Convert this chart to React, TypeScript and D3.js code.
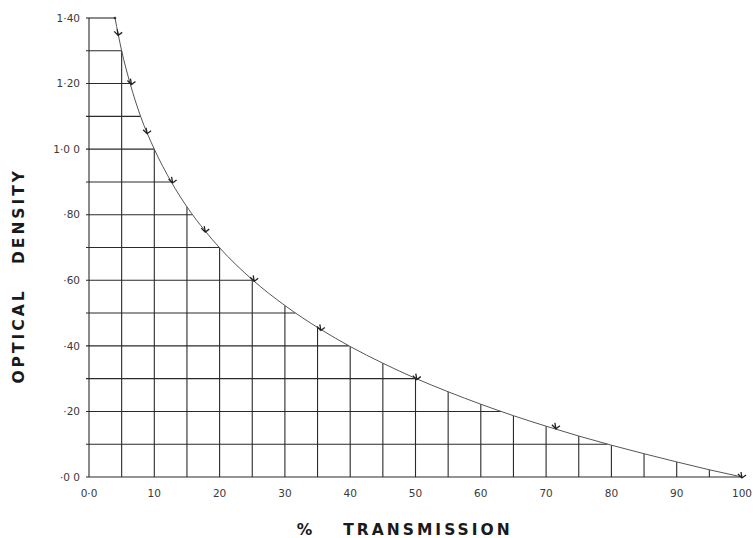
import React, { useEffect, useRef } from 'react';
import * as d3 from 'd3';

// values
const xTicks = [0, 10, 20, 30, 40, 50, 60, 70, 80, 90, 100];
const xTickLabels = ['0·0', '10', '20', '30', '40', '50', '60', '70', '80', '90', '100'];
const yTicks = [0, 0.2, 0.4, 0.6, 0.8, 1.0, 1.2, 1.4];
const yTickLabels = ['·0 0', '·20', '·40', '·60', '·80', '1·0 0', '1·20', '1·40'];

// vertical grid lines: transmission, and the density where each meets the curve
const vGridT = [5, 10, 15, 20, 25, 30, 35, 40, 45, 50, 55, 60, 65, 70, 75, 80, 85, 90, 95];
const vGridTop = [1.30, 1.00, 0.824, 0.699, 0.602, 0.523, 0.456, 0.398, 0.347, 0.301, 0.26, 0.222, 0.187, 0.155, 0.125, 0.097, 0.071, 0.046, 0.022];

// horizontal grid lines: density, and the transmission where each meets the curve
const hGridOD = [0.1, 0.2, 0.3, 0.4, 0.5, 0.6, 0.7, 0.8, 0.9, 1.0, 1.1, 1.2, 1.3, 1.4];
const hGridEnd = [79.4, 63.1, 50.1, 39.8, 31.6, 25.1, 20.0, 15.8, 12.6, 10.0, 7.9, 6.3, 5.0, 3.98];

// curve points
const curveT = [3.98, 5, 6.3, 7.9, 10, 12.6, 15, 17.8, 20, 25, 30, 35.5, 40, 45, 50, 55, 60, 65, 70, 75, 80, 85, 90, 95, 100];
const curveOD = [1.40, 1.30, 1.20, 1.10, 1.00, 0.90, 0.824, 0.75, 0.699, 0.602, 0.523, 0.45, 0.398, 0.347, 0.301, 0.26, 0.222, 0.187, 0.155, 0.125, 0.097, 0.071, 0.046, 0.022, 0];

// little arrow marks on the curve
const markT = [4.47, 6.5, 8.9, 12.8, 17.8, 25.3, 35.5, 50.2, 71.5, 100];
const markOD = [1.35, 1.20, 1.05, 0.90, 0.75, 0.60, 0.45, 0.30, 0.15, 0.0];

const W = 755;
const H = 538;

export default function App() {
  const ref = useRef<SVGSVGElement>(null);

  useEffect(() => {
    const svg = d3.select(ref.current);
    svg.selectAll('*').remove();

    const x = d3.scaleLinear().domain([0, 100]).range([89, 742]);
    const y = d3.scaleLinear().domain([0, 1.4]).range([477, 18]);

    const grid = svg.append('g').attr('stroke', '#2a2a2a').attr('stroke-width', 1.1).attr('fill', 'none');

    // axes
    grid.append('line')
      .attr('x1', x(0)).attr('x2', x(0))
      .attr('y1', y(0)).attr('y2', y(1.4));
    grid.append('line')
      .attr('x1', x(0) - 3).attr('x2', x(100))
      .attr('y1', y(0)).attr('y2', y(0));

    // vertical grid
    grid.selectAll('.vg').data(vGridT).enter().append('line')
      .attr('class', 'vg')
      .attr('x1', d => x(d)).attr('x2', d => x(d))
      .attr('y1', y(0)).attr('y2', (d, i) => y(vGridTop[i]));

    // horizontal grid
    grid.selectAll('.hg').data(hGridOD).enter().append('line')
      .attr('class', 'hg')
      .attr('x1', x(0) - 3).attr('x2', (d, i) => x(hGridEnd[i]))
      .attr('y1', d => y(d)).attr('y2', d => y(d));

    // curve
    const pts = curveT.map((t, i) => [t, curveOD[i]] as [number, number]);
    const line = d3.line<[number, number]>()
      .x(d => x(d[0]))
      .y(d => y(d[1]))
      .curve(d3.curveMonotoneX);
    svg.append('path')
      .attr('d', line(pts))
      .attr('fill', 'none')
      .attr('stroke', '#555')
      .attr('stroke-width', 1);

    svg.append('circle')
      .attr('cx', x(curveT[0])).attr('cy', y(curveOD[0]))
      .attr('r', 1.3).attr('fill', '#333');

    // arrow marks
    svg.selectAll('.mk').data(markT).enter().append('path')
      .attr('class', 'mk')
      .attr('transform', (d, i) => `translate(${x(d)},${y(markOD[i])})`)
      .attr('d', 'M-4,-3 L0,1 L4,-2 M0,1 L-1,-5')
      .attr('fill', 'none')
      .attr('stroke', '#222')
      .attr('stroke-width', 1.3);

    // tick labels
    const font = '"DejaVu Sans", sans-serif';
    svg.selectAll('.xl').data(xTicks).enter().append('text')
      .attr('class', 'xl')
      .attr('x', d => x(d))
      .attr('y', 497)
      .attr('text-anchor', 'middle')
      .attr('font-family', font)
      .attr('font-size', 10.5)
      .attr('fill', '#3a3a3a')
      .text((d, i) => xTickLabels[i]);

    svg.selectAll('.yl').data(yTicks).enter().append('text')
      .attr('class', 'yl')
      .attr('x', 80)
      .attr('y', d => y(d))
      .attr('dy', '0.35em')
      .attr('text-anchor', 'end')
      .attr('font-family', font)
      .attr('font-size', 10.5)
      .attr('fill', '#3a3a3a')
      .text((d, i) => yTickLabels[i]);

    // axis titles
    const titleStyle = (s: d3.Selection<SVGTextElement, unknown, null, undefined>) =>
      s.attr('font-family', font)
        .attr('font-weight', 'bold')
        .attr('font-size', 15.5)
        .attr('letter-spacing', 3)
        .attr('fill', '#1a1a1a')
        .attr('text-anchor', 'middle');

    svg.append('text').attr('x', 306).attr('y', 535).text('%').call(titleStyle);
    svg.append('text').attr('x', 428).attr('y', 535).text('TRANSMISSION').call(titleStyle);

    svg.append('text').attr('transform', 'translate(24,336) rotate(-90)').text('OPTICAL').call(titleStyle);
    svg.append('text').attr('transform', 'translate(24,216) rotate(-90)').text('DENSITY').call(titleStyle);
  }, []);

  return (
    <svg
      ref={ref}
      width={W}
      height={H}
      style={{ position: 'absolute', left: 0, top: 0, background: '#fff' }}
    />
  );
}
